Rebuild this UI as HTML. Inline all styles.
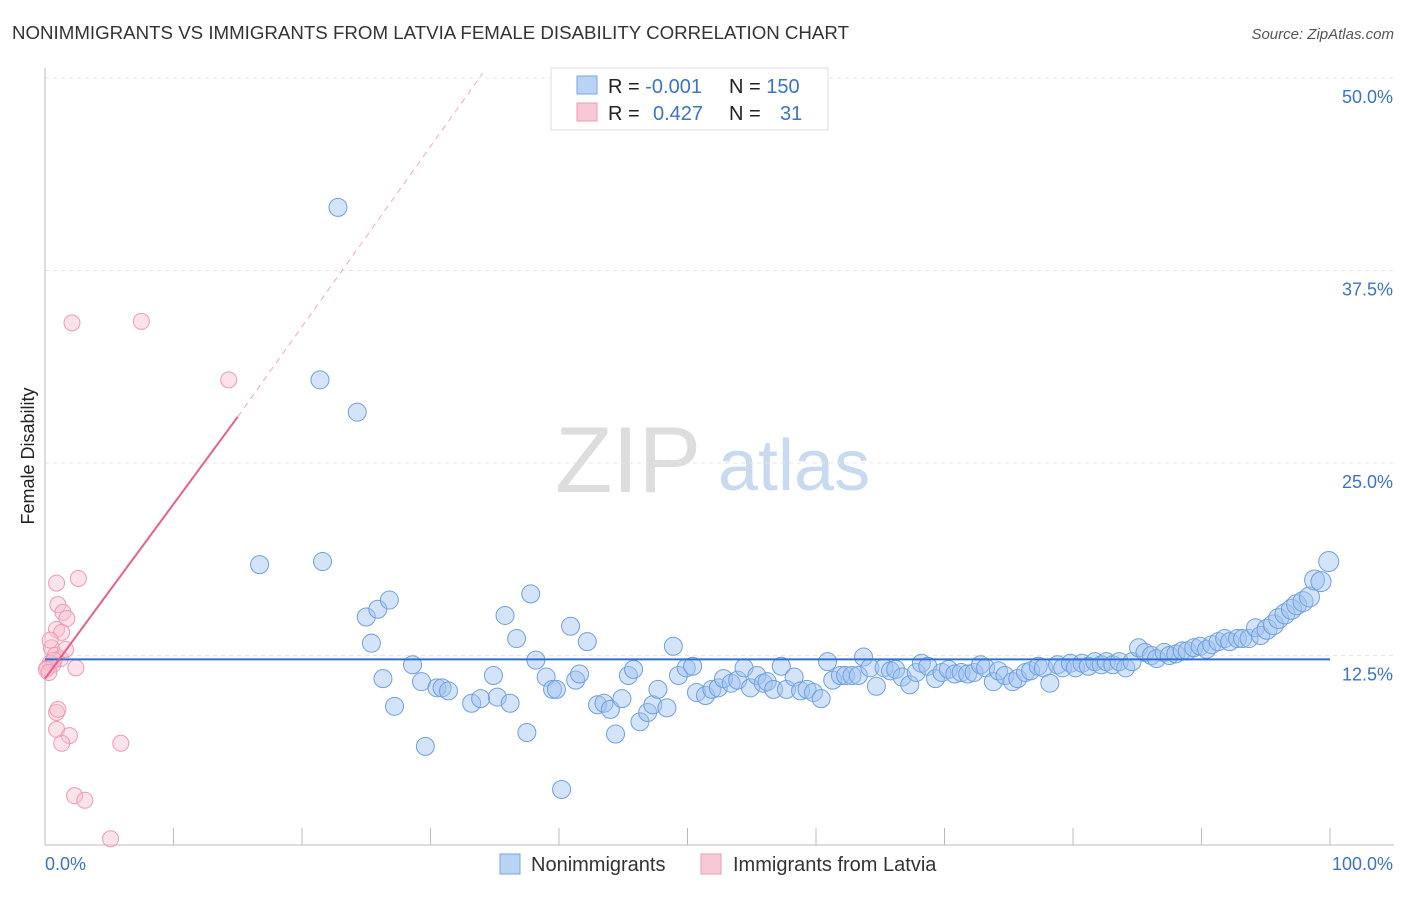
<!DOCTYPE html>
<html><head><meta charset="utf-8"><style>
body{margin:0;background:#fff;font-family:"Liberation Sans",sans-serif}
svg text{font-family:"Liberation Sans",sans-serif}
</style></head><body>
<svg id="chart" width="1406" height="892" xmlns="http://www.w3.org/2000/svg">
<text x="12" y="39" font-size="18" fill="#333" textLength="837" lengthAdjust="spacingAndGlyphs">NONIMMIGRANTS VS IMMIGRANTS FROM LATVIA FEMALE DISABILITY CORRELATION CHART</text>
<text x="1394" y="39" font-size="15" fill="#555" font-style="italic" text-anchor="end">Source: ZipAtlas.com</text>
<g>
<text x="555" y="492" font-size="94" fill="#ddd" font-family="Liberation Serif,serif">ZIP</text>
<text x="718" y="490" font-size="72" fill="#c9daf0">atlas</text>
</g>
<g id="grid"></g>
<g id="axes"></g>
<g id="marks"></g>
<text transform="translate(34,456) rotate(-90)" font-size="18" fill="#222" text-anchor="middle">Female Disability</text>
<g>
<rect x="551" y="68" width="277" height="62" fill="#fff" stroke="#ddd"/>
<rect x="577" y="76" width="20" height="18" fill="#b8d3f3" stroke="#7aa6e0"/>
<rect x="577" y="103" width="20" height="18" fill="#f9c8d6" stroke="#ee9ab3"/>
<text x="608" y="93" font-size="20" fill="#222">R = <tspan fill="#3b73c8">-0.001</tspan></text>
<text x="729" y="93" font-size="20" fill="#222">N = <tspan fill="#3b73c8">150</tspan></text>
<text x="608" y="120" font-size="20" fill="#222">R = <tspan fill="#3b73c8" x="653">0.427</tspan></text>
<text x="729" y="120" font-size="20" fill="#222">N = <tspan fill="#3b73c8" x="780">31</tspan></text>
</g>
<g>
<rect x="500" y="854" width="20" height="20" fill="#b8d3f3" stroke="#7aa6e0"/>
<text x="531" y="871" font-size="20" fill="#333">Nonimmigrants</text>
<rect x="701" y="854" width="20" height="20" fill="#f9c8d6" stroke="#ee9ab3"/>
<text x="733" y="871" font-size="20" fill="#333">Immigrants from Latvia</text>
</g>
</svg>
<script>
const yTicks=[12.5,25,37.5,50];
const yTickLabels=["12.5%","25.0%","37.5%","50.0%"];
const xTickLabels=["0.0%","100.0%"];
const blueX=[22.8,21.4,24.3,16.7,21.6,25.0,25.9,26.8,25.4,26.3,27.2,28.6,29.3,29.6,30.5,30.9,31.4,33.2,33.9,34.9,35.2,35.8,36.2,36.7,37.5,37.8,38.2,39.0,39.5,39.8,40.2,40.9,41.3,41.6,42.2,43.0,43.5,44.0,44.4,44.9,45.4,45.8,46.3,46.9,47.3,47.7,48.4,48.9,49.3,49.9,50.4,50.7,51.4,51.9,52.4,52.8,53.4,53.9,54.4,54.9,55.4,55.9,56.2,56.7,57.3,57.7,58.3,58.8,59.3,59.8,60.4,60.9,61.3,61.9,62.3,62.8,63.3,63.7,64.2,64.7,65.3,65.8,66.2,66.7,67.3,67.8,68.2,68.7,69.3,69.8,70.3,70.8,71.3,71.8,72.3,72.8,73.2,73.8,74.2,74.7,75.3,75.7,76.3,76.7,77.3,77.7,78.2,78.8,79.2,79.8,80.2,80.7,81.2,81.7,82.2,82.6,83.1,83.6,84.1,84.6,85.1,85.6,86.1,86.5,87.1,87.5,88.0,88.5,88.9,89.4,89.9,90.4,90.8,91.3,91.8,92.2,92.8,93.2,93.7,94.2,94.6,95.1,95.6,96.0,96.5,97.0,97.4,97.9,98.4,98.8,99.3,99.9];
const blueY=[41.6,30.4,28.3,18.4,18.6,15.0,15.5,16.1,13.3,11.0,9.2,11.9,10.8,6.6,10.4,10.4,10.2,9.4,9.7,11.2,9.8,15.1,9.4,13.6,7.5,16.5,12.2,11.1,10.3,10.3,3.8,14.4,10.9,11.3,13.4,9.3,9.4,9.0,7.4,9.7,11.2,11.6,8.2,8.8,9.3,10.3,9.1,13.1,11.2,11.7,11.8,10.1,9.9,10.3,10.4,11.0,10.7,10.9,11.7,10.4,11.2,10.7,10.8,10.3,11.8,10.3,11.1,10.2,10.3,10.1,9.7,12.1,10.9,11.2,11.2,11.2,11.2,12.4,11.7,10.5,11.7,11.5,11.6,11.1,10.6,11.4,12.0,11.8,11.0,11.4,11.6,11.3,11.4,11.3,11.4,11.9,11.7,10.8,11.5,11.2,10.8,11.0,11.4,11.5,11.8,11.7,10.7,11.9,11.7,12.0,11.7,12.0,11.8,12.1,11.9,12.1,11.9,12.1,11.7,12.1,13.0,12.7,12.5,12.3,12.7,12.5,12.6,12.8,12.8,13.0,13.1,12.9,13.2,13.4,13.6,13.4,13.6,13.6,13.6,14.3,13.8,14.2,14.5,14.9,15.2,15.5,15.8,16.0,16.3,17.4,17.3,18.6];
const pinkX=[2.1,7.5,14.3,0.9,2.6,1.0,1.4,1.7,0.9,1.3,0.5,0.8,1.2,0.4,0.6,0.2,2.4,0.9,0.9,1.9,1.3,5.9,2.3,3.1,5.1,0.4,0.7,0.1,0.3,1.0,1.6];
const pinkY=[34.1,34.2,30.4,17.2,17.5,15.8,15.3,14.9,14.2,14.0,13.0,12.5,12.3,12.0,11.9,11.7,11.7,8.8,7.7,7.3,6.8,6.8,3.4,3.1,0.6,13.5,12.2,11.6,11.4,9.0,12.9];
const blueTrend=[12.25,12.25];
const pinkTrend=[11.0,28.0];
const NS="http://www.w3.org/2000/svg";
const sx=v=>45+v*12.85, sy=v=>848-v*15.4;
function mk(t,a,p){const e=document.createElementNS(NS,t);for(const k in a)e.setAttribute(k,a[k]);p.appendChild(e);return e;}
const grid=document.getElementById('grid'),axes=document.getElementById('axes'),marks=document.getElementById('marks');
yTicks.forEach((v,i)=>{
 const l=mk('line',{x1:45,x2:1394,y1:sy(v),y2:sy(v),stroke:'#e4e4e4','stroke-dasharray':'4,4'},grid);
 
 
 const t=mk('text',{x:1393,y:sy(v)+25,'font-size':18,fill:'#3b73c8','text-anchor':'end'},axes);t.textContent=yTickLabels[i];
 
 
});
let ax=mk('line',{x1:45,x2:45,y1:68,y2:845,stroke:'#bbb'},axes);


ax=mk('line',{x1:45,x2:1394,y1:845,y2:845,stroke:'#bbb'},axes);


for(let i=1;i<=10;i++){const l=mk('line',{x1:sx(i*10),x2:sx(i*10),y1:828,y2:845,stroke:'#bbb'},axes);
 
 }
let t=mk('text',{x:45,y:870,'font-size':18,fill:'#3b73c8'},axes);t.textContent=xTickLabels[0];


t=mk('text',{x:1393,y:870,'font-size':18,fill:'#3b73c8','text-anchor':'end'},axes);t.textContent=xTickLabels[1];


blueX.forEach((x,i)=>{const r=x>95?10:9;const c=mk('circle',{cx:sx(x),cy:sy(blueY[i]),r:r,fill:'rgba(160,196,240,0.45)',stroke:'#6f9fe0','stroke-width':1},marks);
 
 });
pinkX.forEach((x,i)=>{const c=mk('circle',{cx:sx(x),cy:sy(pinkY[i]),r:8,fill:'rgba(248,190,208,0.45)',stroke:'#ee9ab3','stroke-width':1},marks);
 
 });
let ln=mk('line',{x1:sx(0),x2:sx(100),y1:sy(blueTrend[0]),y2:sy(blueTrend[1]),stroke:'#2f6fd0','stroke-width':2},marks);


const slope=(pinkTrend[1]-pinkTrend[0])/15;
ln=mk('line',{x1:sx(0),x2:sx(15),y1:sy(pinkTrend[0]),y2:sy(pinkTrend[1]),stroke:'#e8608a','stroke-width':2},marks);


const xEnd=(50.3-pinkTrend[0])/slope;
ln=mk('line',{x1:sx(15),x2:sx(xEnd)-8,y1:sy(pinkTrend[1]),y2:sy(50.3),stroke:'#f0a8bd','stroke-width':1,'stroke-dasharray':'6,5'},marks);


</script>
</body></html>
